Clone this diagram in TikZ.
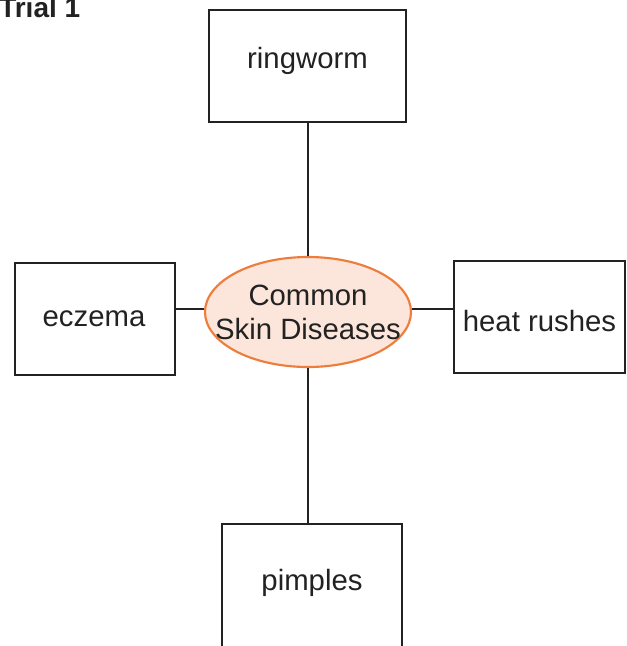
\documentclass[tikz,border=0pt]{standalone}
\usepackage{fontspec}
\setmainfont{Liberation Sans}
\usetikzlibrary{shapes.geometric}
\definecolor{peachfill}{HTML}{FCE6DB}
\definecolor{peachline}{HTML}{EE7D3C}
\definecolor{ink}{HTML}{222222}
\tikzset{
  topic/.style={draw=ink, line width=1.8pt, fill=white, inner sep=0pt,
    minimum height=84pt},
  words/.style={inner sep=0pt, font=\fontsize{22}{26}\selectfont, text=ink},
  hub/.style={ellipse, draw=peachline, line width=1.6pt, fill=peachfill,
    inner sep=0pt, minimum width=154.5pt, minimum height=82.5pt},
  hubtext/.style={words, align=center, font=\fontsize{22}{25.5}\selectfont},
  link/.style={draw=ink, line width=1.6pt},
  caption/.style={font=\bfseries\fontsize{21}{24}\selectfont, text=ink}
}
\begin{document}
\begin{tikzpicture}[x=0.75pt, y=-0.75pt]
  \useasboundingbox (0,0) rectangle (626,646);
  \clip (0,0) rectangle (626,646);

  % heading, partly above the top edge
  \node[caption, anchor=base west, inner sep=0pt] (title) at (-1,17) {Trial 1};

  % central topic
  \node[hub] (dis) at (308,312) {};
  \node[hubtext] (distext) at (308,312) {Common\\Skin Diseases};

  % surrounding boxes and their labels
  \node[topic, minimum width=147.75pt] (ring) at (307.5,66) {};
  \node[words] (ringtext) at (307.5,61) {ringworm};
  \node[topic, minimum width=120pt] (ecz) at (95,319) {};
  \node[words] (ecztext) at (94,319) {eczema};
  \node[topic, minimum width=128.25pt] (heat) at (539.5,317) {};
  \node[words] (heattext) at (539.5,321) {heat rushes};
  \node[topic, anchor=north, minimum width=135pt, minimum height=120pt] (pimp) at (312,523) {};
  \node[words] (pimptext) at (312,583) {pimples};

  % connectors
  \draw[link] (dis.north) -- (dis.north |- ring.south);
  \draw[link] (dis.south) -- (dis.south |- pimp.north);
  \draw[link] (dis.west |- 0,309) -- (ecz.east |- 0,309);
  \draw[link] (dis.east |- 0,309) -- (heat.west |- 0,309);
\end{tikzpicture}
\end{document}
